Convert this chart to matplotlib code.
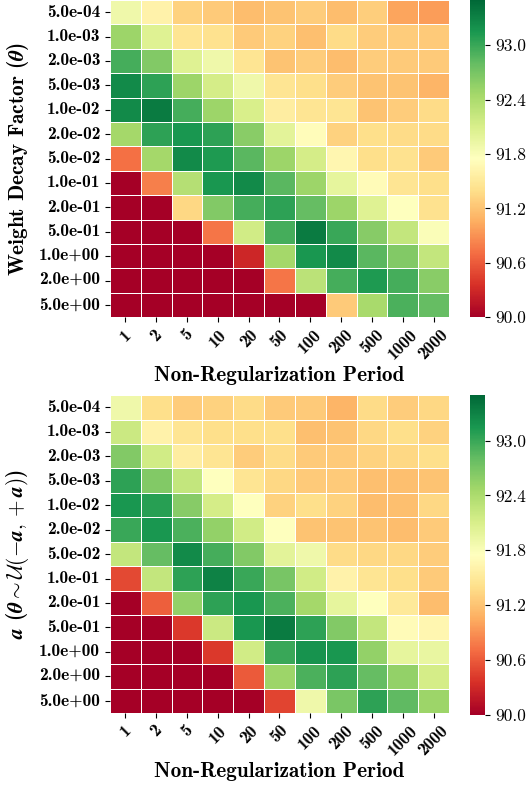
import numpy as np
import matplotlib
matplotlib.use("Agg")
import matplotlib.pyplot as plt
import seaborn as sns

periods = ["1", "2", "5", "10", "20", "50", "100", "200", "500", "1000", "2000"]
factors = ["5.0e-04", "1.0e-03", "2.0e-03", "5.0e-03", "1.0e-02", "2.0e-02", "5.0e-02",
           "1.0e-01", "2.0e-01", "5.0e-01", "1.0e+00", "2.0e+00", "5.0e+00"]

# accuracy, weight decay regularization
acc_decay = [
    [91.90, 91.60, 91.30, 91.25, 91.15, 91.20, 91.27, 91.15, 91.28, 91.00, 90.97],
    [92.50, 92.05, 91.45, 91.43, 91.25, 91.30, 91.17, 91.37, 91.27, 91.27, 91.25],
    [92.95, 92.65, 92.05, 91.90, 91.45, 91.20, 91.27, 91.15, 91.27, 91.25, 91.25],
    [93.25, 93.05, 92.50, 92.12, 91.90, 91.45, 91.40, 91.27, 91.20, 91.20, 91.10],
    [93.25, 93.35, 92.95, 92.50, 92.10, 91.55, 91.45, 91.45, 91.20, 91.27, 91.37],
    [92.45, 93.05, 93.15, 93.05, 92.60, 92.00, 91.72, 91.30, 91.40, 91.37, 91.37],
    [90.72, 92.45, 93.25, 93.13, 92.85, 92.50, 92.12, 91.65, 91.40, 91.43, 91.25],
    [89.50, 90.80, 92.35, 93.15, 93.25, 92.85, 92.50, 91.98, 91.70, 91.45, 91.40],
    [89.50, 89.50, 91.35, 92.65, 92.95, 93.05, 92.80, 92.50, 92.05, 91.75, 91.43],
    [89.50, 89.50, 89.50, 90.75, 92.15, 92.95, 93.35, 93.00, 92.62, 92.25, 91.80],
    [89.50, 89.50, 89.50, 89.50, 90.28, 92.45, 93.15, 93.25, 92.85, 92.65, 92.25],
    [89.50, 89.50, 89.50, 89.50, 89.50, 90.75, 92.30, 92.95, 93.12, 92.95, 92.60],
    [89.50, 89.50, 89.50, 89.50, 89.50, 89.50, 89.50, 91.25, 92.43, 92.92, 92.80],
]

# accuracy, uniform noise regularization
acc_noise = [
    [91.90, 91.40, 91.27, 91.30, 91.37, 91.25, 91.25, 91.10, 91.37, 91.27, 91.35],
    [92.20, 91.60, 91.45, 91.40, 91.40, 91.40, 91.17, 91.20, 91.35, 91.40, 91.30],
    [92.65, 92.15, 91.55, 91.45, 91.27, 91.37, 91.25, 91.25, 91.30, 91.35, 91.40],
    [93.05, 92.65, 92.25, 91.75, 91.45, 91.35, 91.25, 91.25, 91.17, 91.17, 91.20],
    [93.15, 93.08, 92.62, 92.12, 91.75, 91.30, 91.40, 91.30, 91.15, 91.17, 91.35],
    [93.00, 93.15, 92.92, 92.55, 92.15, 91.75, 91.20, 91.20, 91.20, 91.15, 91.25],
    [92.25, 92.80, 93.25, 92.95, 92.65, 92.00, 91.90, 91.37, 91.35, 91.35, 91.27],
    [90.50, 92.25, 93.05, 93.30, 93.00, 92.70, 92.15, 91.60, 91.45, 91.40, 91.25],
    [89.50, 90.62, 92.55, 93.05, 93.15, 92.92, 92.45, 91.98, 91.75, 91.50, 91.15],
    [89.50, 89.50, 90.40, 92.20, 93.15, 93.35, 93.05, 92.65, 92.25, 91.70, 91.65],
    [89.50, 89.50, 89.50, 90.40, 92.15, 93.00, 93.18, 93.15, 92.55, 91.98, 91.95],
    [89.50, 89.50, 89.50, 89.50, 90.60, 92.50, 92.92, 93.05, 92.80, 92.55, 92.12],
    [89.50, 89.50, 89.50, 89.50, 89.50, 90.47, 91.90, 92.68, 93.05, 92.82, 92.50],
]

cbar_ticks = [90.0, 90.6, 91.2, 91.8, 92.4, 93.0]

plt.rcParams["font.family"] = "cmb10"
plt.rcParams["mathtext.fontset"] = "cm"
plt.rcParams["axes.unicode_minus"] = False

fig = plt.figure(figsize=(5.28, 7.87), dpi=100)

panels = [
    (acc_decay, r"Weight Decay Factor ($\boldsymbol{\theta}$)", 0.597, 0.403, 0.597, 0.403),
    (acc_noise, r"$\boldsymbol{a}$ ($\boldsymbol{\theta \sim \mathcal{U}(-a, +a)}$)", 0.094, 0.404, 0.092, 0.406),
]

for data, ylab, b, h, cb, ch in panels:
    ax = fig.add_axes([0.2083, b, 0.642, h])
    cax = fig.add_axes([0.890, cb, 0.0295, ch])
    sns.heatmap(np.array(data), ax=ax, cbar_ax=cax, cmap="RdYlGn", vmin=90.0, vmax=93.5,
                linewidths=0.6, linecolor="white",
                xticklabels=periods, yticklabels=factors,
                cbar_kws={"ticks": cbar_ticks, "format": "%.1f"})
    ax.set_xticklabels(periods, rotation=45, ha="center", fontsize=12.5)
    ax.set_yticklabels(factors, rotation=0, fontsize=12.5)
    ax.set_xlabel("Non-Regularization Period", fontsize=15.25, labelpad=3)
    ax.set_ylabel(ylab, fontsize=15.25, labelpad=6)
    cax.tick_params(labelsize=12.5)
    for t in cax.get_yticklabels():
        t.set_fontfamily("cmr10")
    cax.spines[:].set_visible(False)

fig.savefig("out.png", dpi=100)
